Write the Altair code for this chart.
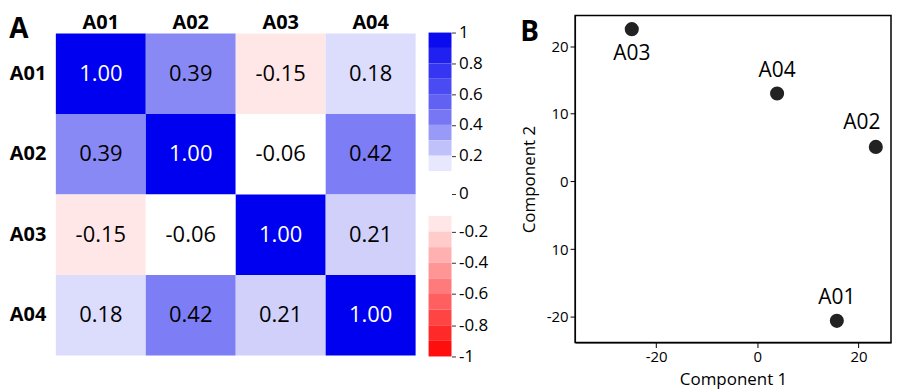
import altair as alt
import pandas as pd

# ---------------- data ----------------
names = ["A01", "A02", "A03", "A04"]
corr_rows = [
    [1.00, 0.39, -0.15, 0.18],
    [0.39, 1.00, -0.06, 0.42],
    [-0.15, -0.06, 1.00, 0.21],
    [0.18, 0.42, 0.21, 1.00],
]
cbar_lo = [0.9, 0.8, 0.7, 0.6, 0.5, 0.4, 0.3, 0.2, 0.1,
           -0.2, -0.3, -0.4, -0.5, -0.6, -0.7, -0.8, -0.9, -1.0]
cbar_ticks = [1, 0.8, 0.6, 0.4, 0.2, 0, -0.2, -0.4, -0.6, -0.8, -1]
comp1 = [15.7, 23.4, -24.8, 3.9]
comp2 = [-20.6, 5.1, 22.5, 13.0]
x_ticks = [-20, 0, 20]
y_ticks = [-20, -10, 0, 10, 20]

FONT = "Open Sans"

heat_df = pd.DataFrame(
    [{"row": r, "col": c, "r": corr_rows[i][j]}
     for i, r in enumerate(names) for j, c in enumerate(names)]
)
cbar_df = pd.DataFrame({"lo": cbar_lo})
cbar_df["hi"] = cbar_df["lo"] + 0.1
cbar_df["mid"] = cbar_df["lo"] + 0.05
pca_df = pd.DataFrame({"name": names, "c1": comp1, "c2": comp2})

color_scale = alt.Scale(domain=[-1, -0.06, 0.09, 0.42, 1],
                        range=["#ff0000", "#ffffff", "#ffffff", "#7d7df5", "#0000f0"],
                        interpolate="rgb")

# ---------------- panel A: heatmap ----------------
xh = alt.X("col:N", sort=names,
           axis=alt.Axis(orient="top", title=None, labelAngle=0, labelFontSize=20,
                         labelFontWeight="bold", ticks=False, domain=False, offset=-19,
                         labelPadding=2, labelColor="black"))
yh = alt.Y("row:N", sort=names, scale=alt.Scale(range=[18, 341]),
           axis=alt.Axis(title=None, ticks=False, domain=False, labelFontSize=20,
                         labelFontWeight="bold", labelPadding=10, labelColor="black"))

hbase = alt.Chart(heat_df).transform_calculate(
    lbl="(datum.r < 0 ? '-' : '') + format(abs(datum.r), '.2f')"
)
rects = hbase.mark_rect().encode(
    x=xh, y=yh, color=alt.Color("r:Q", scale=color_scale, legend=None)
)
texts = hbase.mark_text(fontSize=22, font=FONT).encode(
    x=alt.X("col:N", sort=names),
    y=alt.Y("row:N", sort=names),
    text="lbl:N",
    color=alt.condition("datum.r > 0.9", alt.value("white"), alt.value("black")),
)
heat = alt.layer(rects, texts).properties(
    width=361, height=341,
    title=alt.TitleParams("A", anchor="start", frame="bounds", fontSize=28,
                          fontWeight="bold", font=FONT, baseline="top", offset=-31,
                          color="black"),
)

# ---------------- colour bar ----------------
cbar = alt.Chart(cbar_df).mark_rect().encode(
    y=alt.Y("lo:Q",
            scale=alt.Scale(domain=[-1, -0.1, 0.1, 1], range=[342, 201, 156, 17],
                            zero=False, nice=False),
            axis=alt.Axis(orient="right", offset=-111, values=cbar_ticks, title=None,
                          domain=False, grid=False, tickSize=4, labelFontSize=17,
                          labelPadding=3, labelColor="black", tickColor="#333333",
                          labelExpr="datum.value == 0 ? '0' : (datum.value < 0 ? '-' : '') + format(abs(datum.value), '~g')")),
    y2="hi:Q",
    x=alt.value(0),
    x2=alt.value(23),
    color=alt.Color("mid:Q", scale=color_scale, legend=None),
).properties(width=134, height=343)

# ---------------- panel B: PCA scatter ----------------
xs = alt.X("c1:Q", scale=alt.Scale(domain=[-36, 26.4], nice=False, zero=False),
           axis=alt.Axis(values=x_ticks, title="Component 1", grid=False,
                         labelFontSize=15, titleFontSize=17, titleFontWeight="normal",
                         domainColor="black", tickColor="black", labelColor="black",
                         titleColor="black", tickSize=5, titlePadding=7,
                         labelExpr="(datum.value < 0 ? '-' : '') + format(abs(datum.value), 'd')"))
ys = alt.Y("c2:Q", scale=alt.Scale(domain=[-23.8, 24.5], nice=False, zero=False),
           axis=alt.Axis(values=y_ticks, title="Component 2", grid=False,
                         labelFontSize=15, titleFontSize=17, titleFontWeight="normal",
                         domainColor="black", tickColor="black", labelColor="black",
                         titleColor="black", tickSize=5, titlePadding=8,
                         labelExpr="datum.value == -10 ? '10' : (datum.value < 0 ? '-' : '') + format(abs(datum.value), 'd')"))

sbase = alt.Chart(pca_df)
pts = sbase.mark_circle(size=200, color="#222222", opacity=1).encode(x=xs, y=ys)
lab_above = sbase.transform_filter(
    alt.FieldOneOfPredicate(field="name", oneOf=["A01", "A04"])
).mark_text(fontSize=21, font=FONT, dy=-23, color="black").encode(
    x="c1:Q", y="c2:Q", text="name:N")
lab_left = sbase.transform_filter(alt.datum.name == "A02").mark_text(
    fontSize=21, font=FONT, dy=-24, dx=-14, color="black").encode(
    x="c1:Q", y="c2:Q", text="name:N")
lab_below = sbase.transform_filter(alt.datum.name == "A03").mark_text(
    fontSize=21, font=FONT, dy=25, color="black").encode(
    x="c1:Q", y="c2:Q", text="name:N")

scatter = alt.layer(pts, lab_above, lab_left, lab_below).properties(
    width=317, height=328,
    view=alt.ViewBackground(stroke="black", strokeWidth=1.5),
    title=alt.TitleParams("B", anchor="start", frame="bounds", fontSize=28,
                          fontWeight="bold", font=FONT, baseline="top", offset=-31,
                          color="black"),
)

chart = alt.hconcat(heat, cbar, scatter, spacing=13, bounds="flush").properties(
    padding={"top": 3, "left": 0, "right": 0, "bottom": 0}
).configure(font=FONT).configure_view(stroke="transparent")

chart.save("out.html", embed_options={"renderer": "svg", "actions": False})
